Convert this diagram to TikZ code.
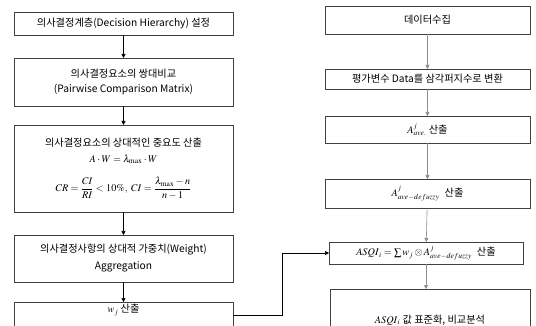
\documentclass[tikz,border=0pt]{standalone}
\usepackage{amsmath, amssymb}
\usepackage{mathptmx}
\usepackage{fontspec}
\setmainfont{Noto Sans CJK KR}
\usepackage{tikz}
\usetikzlibrary{arrows.meta}

\begin{document}
\begin{tikzpicture}[x=1pt, y=-1pt,
    caixa/.style={draw=black!75, line width=0.7pt, minimum width=219pt, align=center,
        inner sep=2pt, outer sep=0pt, font=\fontsize{10.2}{12}\selectfont},
    caixad/.style={caixa, minimum width=205pt},
    seta/.style={-{Triangle[length=4pt,width=4pt]}, line width=0.6pt},
    setad/.style={seta, draw=black!45}]

% Moldura da figura
\useasboundingbox (0,0) rectangle (536,326);
\clip (0,0) rectangle (536,326);

% Coluna da esquerda (AHP)
\node[caixa, minimum height=23pt] (hierarquia) at (123.5,23.5) {의사결정계층(Decision Hierarchy) 설정};
\node[caixa, minimum height=48pt] (pares) at (123.5,82) {의사결정요소의 쌍대비교\\[3pt](Pairwise Comparison Matrix)};
\node[caixa, minimum height=87pt] (importancia) at (123.5,168.5) {의사결정요소의 상대적인 중요도 산출\\[4pt]
    $A\cdot W=\lambda_{\max}\cdot W$\\[12pt]
    $CR=\dfrac{CI}{RI}<10\%,\ CI=\dfrac{\lambda_{\max}-n}{n-1}$};
\node[caixa, minimum height=47pt] (agregacao) at (123.5,258.5) {의사결정사항의 상대적 가중치(Weight)\\[5pt]Aggregation};
\node[caixa, minimum height=30pt] (peso) at (123.5,317) {\raisebox{7pt}[\height][\depth]{$w_j$ 산출}};

% Coluna da direita (dados fuzzy)
\node[caixad, minimum height=28pt] (coleta) at (427.5,20) {데이터수집};
\node[caixad, minimum height=20pt] (fuzzy) at (427.5,79) {평가변수 Data를 삼각퍼지수로 변환};
\node[caixad, minimum height=27pt] (media) at (427.5,129.5) {$A^{j}_{ave.}$ 산출};
\node[caixad, minimum height=29pt] (defuzzy) at (427.5,193.5) {$A^{j}_{ave-defuzzy}$\enspace 산출};
\node[caixad, minimum width=194pt, minimum height=22pt] (asqi) at (426,253) {$ASQI_{\,i}=\sum w_j\otimes A^{j}_{ave-defuzzy}$\enspace 산출};
\node[caixad, minimum width=200pt, minimum height=60pt] (padrao) at (430,319) {\raisebox{-1pt}[\height][\depth]{$ASQI_{\,i}$ 값 표준화, 비교분석}};

% Setas da esquerda
\draw[seta] (hierarquia) -- (pares);
\draw[seta] (pares) -- (importancia);
\draw[seta] (importancia) -- (agregacao);
\draw[seta] (agregacao) -- (peso);

% Setas da direita
\draw[setad] (coleta) -- (fuzzy);
\draw[setad] (fuzzy) -- (media);
\draw[setad] (media) -- (defuzzy);
\draw[setad] (defuzzy) -- (asqi);
\draw[setad] (asqi) -- (padrao.north -| asqi);

% Ligacao entre as colunas
\coordinate (dobra) at (282,253);
\draw[seta] ([yshift=2pt]peso.east) -| (dobra) -- (asqi.west);

\end{tikzpicture}
\end{document}
